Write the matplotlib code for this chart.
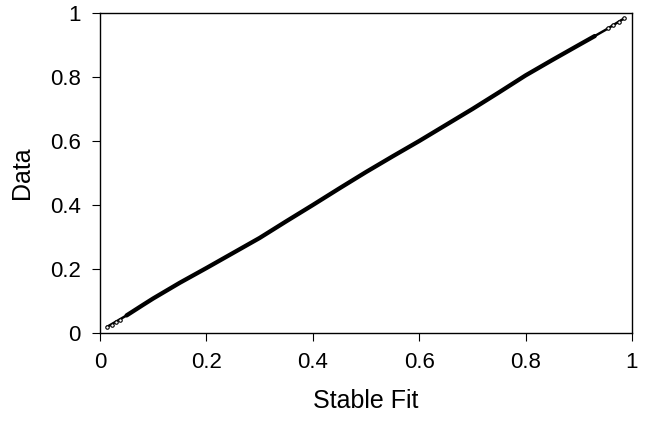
import matplotlib
matplotlib.use("Agg")
import matplotlib.pyplot as plt

# P-P plot values
fit = [0.014, 0.05, 0.08, 0.1, 0.15, 0.2, 0.25, 0.3, 0.35, 0.4, 0.45, 0.5, 0.55,
       0.6, 0.65, 0.7, 0.75, 0.8, 0.85, 0.9, 0.93, 0.95, 0.985]
data = [0.02, 0.055, 0.087, 0.108, 0.157, 0.203, 0.25, 0.297, 0.349, 0.4, 0.452, 0.503, 0.552,
        0.6, 0.65, 0.7, 0.752, 0.805, 0.853, 0.9, 0.928, 0.947, 0.983]

# sparse points at the tails
tail_fit = [0.014, 0.022, 0.03, 0.038, 0.955, 0.965, 0.975, 0.985]
tail_data = [0.02, 0.026, 0.033, 0.041, 0.952, 0.962, 0.972, 0.983]

xticks = [0, 0.2, 0.4, 0.6, 0.8, 1]
yticks = [0, 0.2, 0.4, 0.6, 0.8, 1]

plt.rcParams['font.family'] = ['Liberation Sans', 'DejaVu Sans']

fig = plt.figure(figsize=(6.52, 4.24), dpi=100)
ax = fig.add_axes([0.1534, 0.2146, 0.8159, 0.7547])

ax.plot(fit[1:-2], data[1:-2], color='black', lw=3.1, solid_capstyle='round',
        solid_joinstyle='round')
ax.plot(fit[:2], data[:2], color='black', lw=1.8)
ax.plot(fit[-3:], data[-3:], color='black', lw=1.8)
ax.plot(tail_fit, tail_data, 'o', ms=2.5, mfc='white', mec='black', mew=0.8)

ax.set_xlim(0, 1)
ax.set_ylim(0, 1)
ax.set_xticks(xticks)
ax.set_yticks(yticks)
ax.set_xticklabels([f"{t:g}" for t in xticks])
ax.set_yticklabels([f"{t:g}" for t in yticks])
ax.tick_params(direction='out', length=6, width=0.8, labelsize=16, pad=8)
for s in ax.spines.values():
    s.set_linewidth(1.0)

ax.set_xlabel('Stable Fit', fontsize=18, labelpad=11)
ax.set_ylabel('Data', fontsize=18, labelpad=11)

fig.savefig('out.png', dpi=100)
